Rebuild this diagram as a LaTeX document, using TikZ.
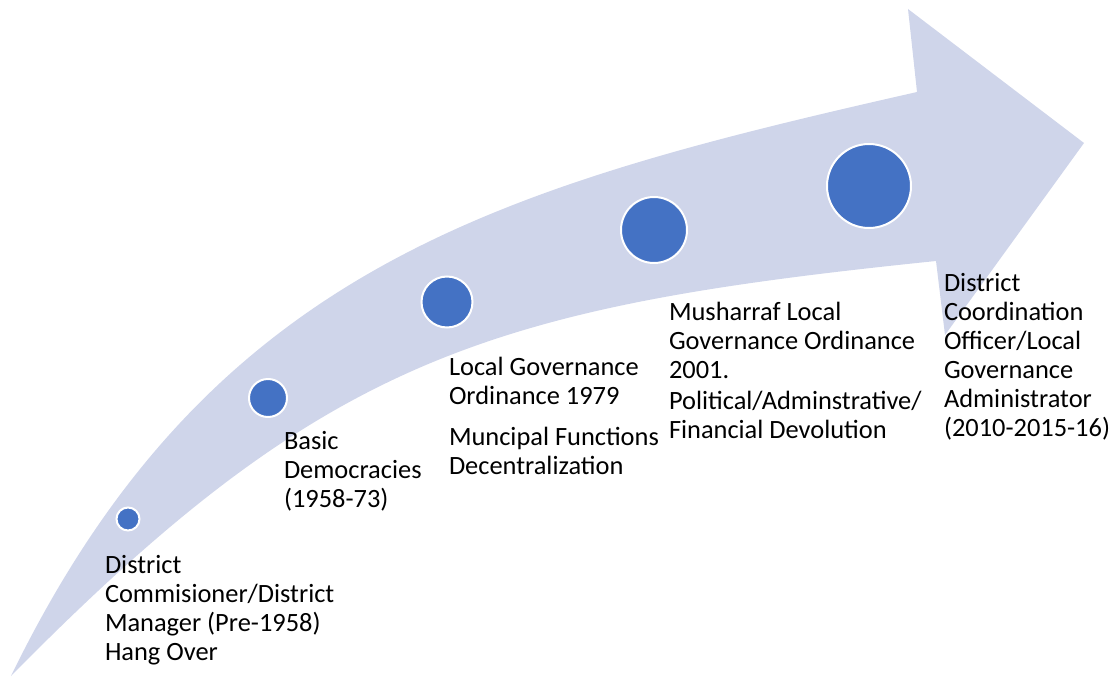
\documentclass[tikz,border=0pt]{standalone}
\usepackage{fontspec}
\setmainfont{Carlito}
\definecolor{arrowfill}{HTML}{CFD5EA}
\definecolor{dotblue}{HTML}{4472C4}
\tikzset{
  dot/.style={circle, fill=dotblue, draw=white, line width=2pt, inner sep=0pt, outer sep=0pt},
  label/.style={anchor=base west, inner sep=0pt, outer sep=0pt, text=black,
    font=\fontsize{26.4}{29}\selectfont}
}
\begin{document}
\begin{tikzpicture}[x=1pt,y=-1pt]
\useasboundingbox (0,0) rectangle (1114,677);
% curved arrow
\fill[arrowfill] (11,676) .. controls (210,267) and (498,187) .. (917,92)
  -- (908,9) -- (1084,143) -- (945,335) -- (936,261)
  .. controls (488,307) and (325,357) .. (11,676) -- cycle;
% milestone dots
\node[dot, minimum size=23pt] (c1) at (128,519) {};
\node[dot, minimum size=38pt] (c2) at (268,398) {};
\node[dot, minimum size=51pt] (c3) at (447,302) {};
\node[dot, minimum size=66pt] (c4) at (654,230) {};
\node[dot, minimum size=84pt] (c5) at (869,186) {};
% labels
\node[label] (t1) at (105,573) {\begin{tabular}[t]{@{}l@{}}District\\Commisioner/District\\Manager (Pre-1958)\\Hang Over\end{tabular}};
\node[label] (t2) at (284,449) {\begin{tabular}[t]{@{}l@{}}Basic\\Democracies\\(1958-73)\end{tabular}};
\node[label] (t3) at (449,375) {\begin{tabular}[t]{@{}l@{}}Local Governance\\Ordinance 1979\\[12pt]Muncipal Functions\\Decentralization\end{tabular}};
\node[label] (t4) at (669,320) {\begin{tabular}[t]{@{}l@{}}Musharraf Local\\Governance Ordinance\\2001.\\[2pt]Political/Adminstrative/\\Financial Devolution\end{tabular}};
\node[label] (t5) at (944,291) {\begin{tabular}[t]{@{}l@{}}District\\Coordination\\Officer/Local\\Governance\\Administrator\\(2010-2015-16)\end{tabular}};
\end{tikzpicture}
\end{document}
